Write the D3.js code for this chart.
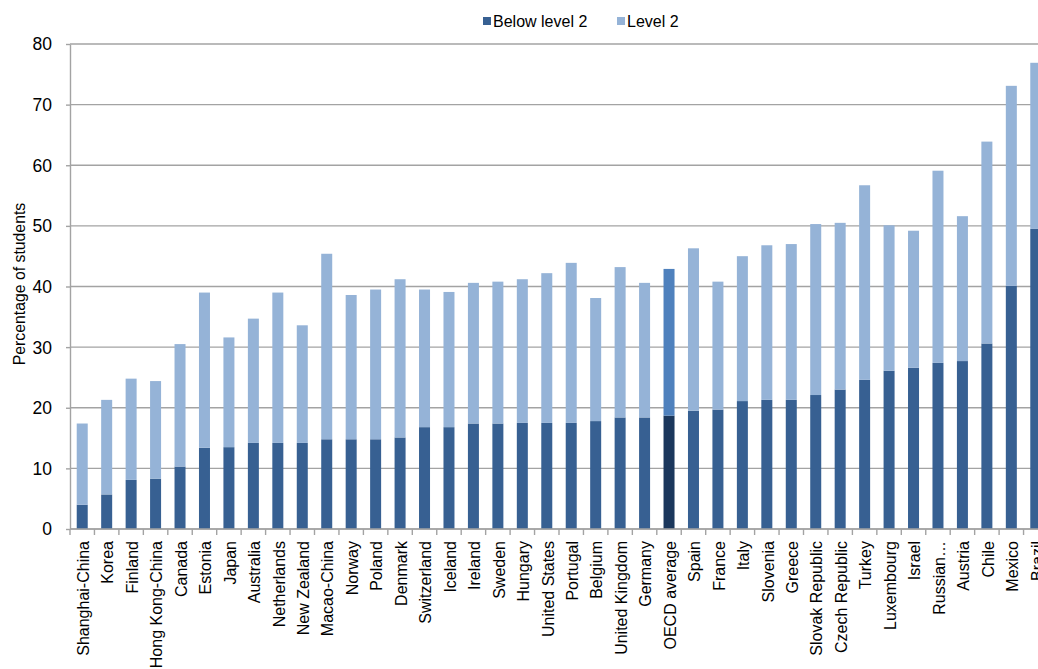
<!DOCTYPE html>
<html>
<head>
<meta charset="utf-8">
<script src="https://cdn.jsdelivr.net/npm/d3@7"></script>
<style>
  body { margin: 0; background: #fff; }
  svg { display: block; font-family: "Liberation Sans", Arial, sans-serif; }
</style>
</head>
<body>
<svg id="chart" width="1038" height="669"></svg>
<script>
// categories, in the order shown
const countries = ["Shanghai-China", "Korea", "Finland", "Hong Kong-China", "Canada", "Estonia", "Japan",
  "Australia", "Netherlands", "New Zealand", "Macao-China", "Norway", "Poland", "Denmark", "Switzerland",
  "Iceland", "Ireland", "Sweden", "Hungary", "United States", "Portugal", "Belgium", "United Kingdom",
  "Germany", "OECD average", "Spain", "France", "Italy", "Slovenia", "Greece", "Slovak Republic",
  "Czech Republic", "Turkey", "Luxembourg", "Israel", "Russian…", "Austria", "Chile", "Mexico", "Brazil"];

// percentage of students below level 2
const belowLevel2 = [4.0, 5.7, 8.1, 8.3, 10.3, 13.4, 13.5, 14.2, 14.2, 14.2, 14.8, 14.8, 14.8, 15.1, 16.8,
  16.8, 17.4, 17.4, 17.5, 17.5, 17.5, 17.8, 18.4, 18.4, 18.7, 19.5, 19.7, 21.1, 21.3, 21.3, 22.1,
  23.0, 24.6, 26.1, 26.6, 27.4, 27.7, 30.6, 40.1, 49.5];

// percentage of students at level 2
const level2 = [13.4, 15.6, 16.7, 16.1, 20.2, 25.6, 18.1, 20.5, 24.8, 19.4, 30.6, 23.8, 24.7, 26.1, 22.7,
  22.3, 23.2, 23.4, 23.7, 24.7, 26.4, 20.3, 24.8, 22.2, 24.2, 26.8, 21.1, 23.9, 25.5, 25.7, 28.2,
  27.5, 32.1, 24.0, 22.6, 31.7, 23.9, 33.3, 33.0, 27.4];

const yTicks = [0, 10, 20, 30, 40, 50, 60, 70, 80];
const seriesNames = ["Below level 2", "Level 2"];

const rows = countries.map((c, i) => ({ name: c, below: belowLevel2[i], lvl2: level2[i] }));

const svg = d3.select("#chart");
const plotLeft = 70, plotRight = 1048, plotTop = 44, plotBottom = 529;

const x = d3.scaleBand().domain(countries).range([plotLeft, plotRight]).paddingInner(0.55).paddingOuter(0.275);
const y = d3.scaleLinear().domain([0, 80]).range([plotBottom, plotTop]);

const colors = {
  below: "#376092", lvl2: "#95b3d7",
  belowAvg: "#1b375c", lvl2Avg: "#4f81bd"
};
const isAvg = d => d.data.name === "OECD average";

// gridlines
svg.append("g")
  .selectAll("line")
  .data(yTicks)
  .join("line")
  .attr("x1", plotLeft).attr("x2", plotRight)
  .attr("y1", d => y(d)).attr("y2", d => y(d))
  .attr("stroke", "#a3a3a3")
  .attr("stroke-width", 1.4);

// stacked bars
const stack = d3.stack().keys(["below", "lvl2"]);
const layers = stack(rows);

svg.append("g")
  .selectAll("g")
  .data(layers)
  .join("g")
  .each(function (layer) {
    d3.select(this).selectAll("rect")
      .data(layer)
      .join("rect")
      .attr("x", d => x(d.data.name))
      .attr("width", x.bandwidth())
      .attr("y", d => y(d[1]))
      .attr("height", d => y(d[0]) - y(d[1]))
      .attr("fill", d => {
        if (layer.key === "below") return isAvg(d) ? colors.belowAvg : colors.below;
        return isAvg(d) ? colors.lvl2Avg : colors.lvl2;
      });
  });

// y axis
const yAxis = svg.append("g")
  .attr("transform", `translate(${plotLeft},0)`)
  .call(d3.axisLeft(y).tickValues(yTicks).tickSize(4).tickPadding(14).tickSizeOuter(0));
yAxis.select(".domain").attr("stroke", "#a3a3a3").attr("stroke-width", 1.4);
yAxis.selectAll(".tick line").attr("stroke", "#a3a3a3").attr("stroke-width", 1.4);
yAxis.selectAll(".tick text")
  .attr("fill", "#000")
  .style("font-size", "17.5px")
  .attr("dy", "0.34em");

// x axis: line, ticks between categories, rotated labels
const step = x.step();
const xg = svg.append("g");
xg.append("line")
  .attr("x1", plotLeft).attr("x2", plotRight)
  .attr("y1", plotBottom).attr("y2", plotBottom)
  .attr("stroke", "#a3a3a3").attr("stroke-width", 1.4);
xg.selectAll(".tk")
  .data(countries)
  .join("line")
  .attr("class", "tk")
  .attr("x1", d => x(d) + x.bandwidth() / 2 - step / 2)
  .attr("x2", d => x(d) + x.bandwidth() / 2 - step / 2)
  .attr("y1", plotBottom).attr("y2", plotBottom + 6)
  .attr("stroke", "#a3a3a3").attr("stroke-width", 1.4);

xg.selectAll(".lbl")
  .data(countries)
  .join("text")
  .attr("class", "lbl")
  .attr("transform", d => `translate(${x(d) + x.bandwidth() / 2 + 1},${plotBottom + 12}) rotate(-90)`)
  .attr("text-anchor", "end")
  .attr("dy", "0.36em")
  .style("font-size", "16px")
  .attr("fill", "#000")
  .text(d => d);

// y axis title
svg.append("text")
  .attr("transform", "translate(25,284) rotate(-90)")
  .attr("text-anchor", "middle")
  .style("font-size", "15.8px")
  .attr("fill", "#000")
  .text("Percentage of students");

// legend
const legend = svg.append("g");
const legendX = [483, 617];
const legendCols = [colors.below, colors.lvl2];
seriesNames.forEach((s, i) => {
  legend.append("rect")
    .attr("x", legendX[i]).attr("y", 17)
    .attr("width", 8).attr("height", 8)
    .attr("fill", legendCols[i]);
  legend.append("text")
    .attr("x", legendX[i] + 10).attr("y", 21)
    .attr("dy", "0.36em")
    .style("font-size", "16px")
    .attr("fill", "#000")
    .text(s);
});
</script>
</body>
</html>
